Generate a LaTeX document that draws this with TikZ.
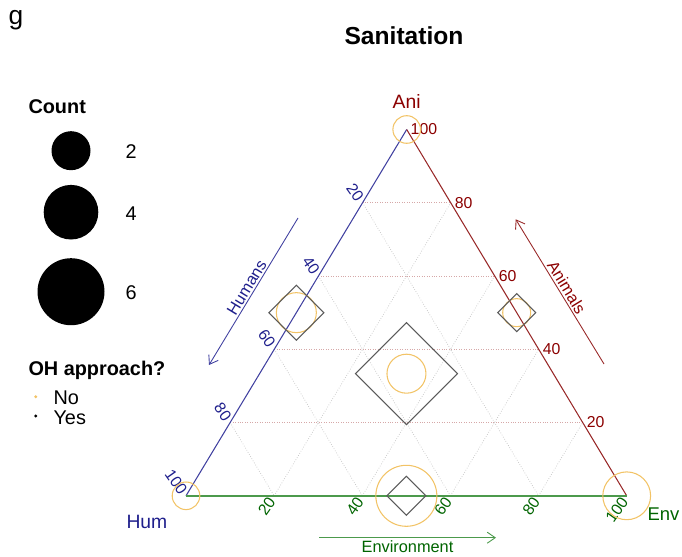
\documentclass[tikz,border=0pt]{standalone}
\usepackage{fontspec}
\setmainfont{Liberation Sans}
\usetikzlibrary{arrows.meta, positioning, calc}
\definecolor{chum}{HTML}{1F1F8C}
\definecolor{chumln}{HTML}{4040A0}
\definecolor{cani}{HTML}{8B0000}
\definecolor{caniln}{HTML}{982828}
\definecolor{cenv}{HTML}{006400}
\definecolor{cenvln}{HTML}{4C9A4C}
\definecolor{cno}{HTML}{F2C366}
\definecolor{cyes}{HTML}{5A5A5A}
\definecolor{cgrid}{HTML}{C4C4C4}
\definecolor{cgridh}{HTML}{D6A8A8}
\tikzset{
  every picture/.style={line width=0.6pt},
  tick/.style={font=\fontsize{9}{11}\selectfont, inner sep=2pt},
  vlabel/.style={font=\fontsize{11}{13}\selectfont, anchor=base, inner sep=0pt},
  axtitle/.style={font=\fontsize{9.3}{11}\selectfont, inner sep=1pt},
  gridline/.style={draw=cgrid, densely dotted, line width=0.4pt},
  ptno/.style={draw=cno, line width=0.6pt},
  ptyes/.style={draw=cyes, line width=0.6pt},
  axarrow/.style={{Straight Barb[length=1.6mm, width=2.2mm]}-, line width=0.5pt},
  legtext/.style={font=\fontsize{11.3}{13}\selectfont, anchor=base west, inner sep=0pt},
  legtitle/.style={font=\bfseries\fontsize{11.3}{13}\selectfont, anchor=base west, inner sep=0pt},
}

\begin{document}
\begin{tikzpicture}[x=0.02cm, y=-0.02cm]
  \useasboundingbox (0,0) rectangle (682,557);
  % corners of the ternary triangle (pixel grid)
  \coordinate (Ani) at (406.7,129.5);
  \coordinate (Hum) at (186,495.8);
  \coordinate (Env) at (626.7,495.8);

  % grid every 20 %
  \foreach \k in {0.2,0.4,0.6,0.8} {
    \draw[gridline, draw=cgridh] (barycentric cs:Ani=\k,Hum=1-\k) -- (barycentric cs:Ani=\k,Env=1-\k);
    \draw[gridline] (barycentric cs:Hum=\k,Ani=1-\k) -- (barycentric cs:Hum=\k,Env=1-\k);
    \draw[gridline] (barycentric cs:Env=\k,Hum=1-\k) -- (barycentric cs:Env=\k,Ani=1-\k);
  }
  \draw[chumln] (Hum) -- (Ani);
  \draw[caniln] (Ani) -- (Env);
  \draw[cenvln, line width=0.9pt] (Hum) -- (Env);

  % tick labels
  \foreach \v in {20,40,60,80,100} {
    \pgfmathsetmacro{\f}{\v/100}
    \node[tick, text=chum, rotate=-55, anchor=east] (th\v) at (barycentric cs:Hum=\f,Ani=1-\f) {\v};
    \node[tick, text=cani, anchor=west] (ta\v) at (barycentric cs:Ani=\f,Env=1-\f) {\v};
    \node[tick, text=cenv, rotate=55, anchor=east] (te\v) at (barycentric cs:Env=\f,Hum=1-\f) {\v};
  }

  % corner labels
  \node[vlabel, text=cani] (lAni) at (406.7,108.3) {Ani};
  \node[vlabel, text=chum, anchor=base west] (lHum) at (126,528) {Hum};
  \node[vlabel, text=cenv, anchor=base west, font=\fontsize{10.5}{12}\selectfont] (lEnv) at (647,520) {Env};

  % axis arrows
  \coordinate (hu1) at (209,365);
  \coordinate (hu2) at (298,218);
  \coordinate (an1) at (515.7,219.3);
  \coordinate (an2) at (604,364);
  \coordinate (en1) at (496,537.7);
  \coordinate (en2) at (319,537.7);
  \draw[axarrow, chumln] (hu1) -- (hu2) node[midway, above, sloped, axtitle, text=chum] (tHum) {Humans};
  \draw[axarrow, caniln] (an1) -- (an2) node[midway, above, sloped, axtitle, text=cani] (tAni) {Animals};
  \draw[axarrow, cenvln] (en1) -- (en2) node[midway, below, axtitle, inner sep=1.5pt, text=cenv] (tEnv) {Environment};

  % data points
  \coordinate (pHE) at (barycentric cs:Hum=1,Env=1);
  \coordinate (pC) at (barycentric cs:Hum=1,Ani=1,Env=1);
  \coordinate (pHA) at (barycentric cs:Hum=1,Ani=1);
  \coordinate (pAE) at (barycentric cs:Ani=1,Env=1);
  \foreach \p/\r in {Ani/13.8, Hum/13.8, Env/23.9, pHE/30.5, pC/19.5, pHA/20, pAE/14}
    \draw[ptno] (\p) circle[radius=\r];
  \foreach \p/\s in {pHE/19.5, pC/51, pHA/27.5, pAE/19}
    \draw[ptyes] (\p) +(0,-\s) -- +(\s,0) -- +(0,\s) -- +(-\s,0) -- cycle;

  % title and panel letter
  \node[font=\bfseries\fontsize{14}{16}\selectfont, anchor=base] (title) at (404,45) {Sanitation};
  \node[font=\fontsize{15}{18}\selectfont, anchor=base west, inner sep=0pt] (panel) at (8,25) {g};

  % legend
  \node[legtitle] (cnt) at (28,114) {Count};
  \foreach \y/\r/\n in {150.7/19.5/2, 212.2/27.3/4, 291.7/33.5/6} {
    \fill (71,\y) circle[radius=\r];
    \node[legtext] (c\n) at (125,\y+8) {\n};
  }
  \node[legtitle] (oh) at (28,375) {OH approach?};
  \fill[cno] (35.7,396.7) circle[radius=1.6];
  \fill (35.7,416) circle[radius=1.6];
  \node[legtext] (no) at (53,404) {No};
  \node[legtext] (yes) at (53,424) {Yes};
\end{tikzpicture}
\end{document}
